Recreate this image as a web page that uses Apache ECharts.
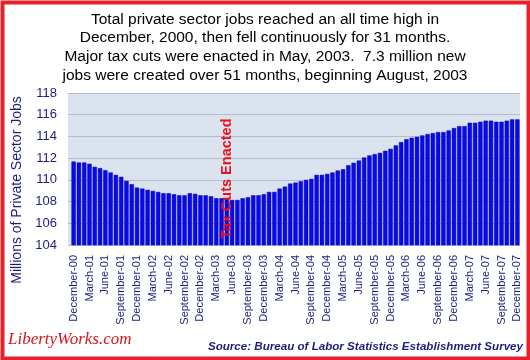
<!DOCTYPE html>
<html><head><meta charset="utf-8">
<script src="https://cdn.jsdelivr.net/npm/echarts@6/dist/echarts.min.js"></script>
<style>html,body{margin:0;padding:0;background:#fff}#c{width:530px;height:360px}</style>
</head><body><div id="c"></div>
<script>
const categories = [
"December-00",
"January-01","February-01","March-01","April-01","May-01","June-01","July-01","August-01","September-01","October-01","November-01","December-01",
"January-02","February-02","March-02","April-02","May-02","June-02","July-02","August-02","September-02","October-02","November-02","December-02",
"January-03","February-03","March-03","April-03","May-03","June-03","July-03","August-03","September-03","October-03","November-03","December-03",
"January-04","February-04","March-04","April-04","May-04","June-04","July-04","August-04","September-04","October-04","November-04","December-04",
"January-05","February-05","March-05","April-05","May-05","June-05","July-05","August-05","September-05","October-05","November-05","December-05",
"January-06","February-06","March-06","April-06","May-06","June-06","July-06","August-06","September-06","October-06","November-06","December-06",
"January-07","February-07","March-07","April-07","May-07","June-07","July-07","August-07","September-07","October-07","November-07","December-07"
];
const jobsMillions = [
111.69,
111.60,111.60,111.48,111.20,111.08,110.89,110.68,110.46,110.28,109.91,109.60,109.29,
109.20,109.08,108.98,108.89,108.77,108.77,108.68,108.58,108.58,108.77,108.71,108.58,
108.58,108.49,108.31,108.31,108.31,108.15,108.15,108.31,108.40,108.58,108.58,108.68,
108.89,108.89,109.20,109.38,109.66,109.75,109.88,110.00,110.09,110.46,110.46,110.55,
110.68,110.86,110.98,111.35,111.57,111.78,112.06,112.25,112.37,112.49,112.68,112.86,
113.17,113.48,113.75,113.88,113.97,114.09,114.22,114.31,114.40,114.40,114.55,114.77,
114.95,114.95,115.26,115.26,115.35,115.45,115.45,115.35,115.35,115.45,115.57,115.57
];
const yTicks = [104,106,108,110,112,114,116,118];
const titleLines = [
"Total private sector jobs reached an all time high in",
"December, 2000, then fell continuously for 31 months.",
"Major tax cuts were enacted in May, 2003.  7.3 million new",
"jobs were created over 51 months, beginning August, 2003"
];
const annotation = {category: "May-03", text: "Tax Cuts Enacted"};
const yAxisName = "Millions of Private Sector Jobs";
const sourceText = "Source: Bureau of Labor Statistics Establishment Survey";
const brandText = "LibertyWorks.com";

const navy = '#1c1c80';
const annIndex = categories.indexOf("May-03");
const chart = echarts.init(document.getElementById('c'), null, {renderer:'canvas'});
chart.setOption({
  animation:false,
  backgroundColor:'#fff',
  title:{
    text: titleLines.join('\n'),
    left:'center', top:5,
    textStyle:{fontFamily:'Liberation Sans, Arial', fontSize:15.5, fontWeight:'normal', color:'#000', lineHeight:18.7}
  },
  grid:[
    {left:68, top:93, width:452, height:152, show:true, backgroundColor:'#dbe3ef', borderWidth:0},
    {left:71, top:93, width:449, height:152}
  ],
  xAxis:[
    {gridIndex:0, type:'value', show:false, min:0, max:1},
    {gridIndex:1, type:'category', data:categories, boundaryGap:true,
     axisLine:{show:false}, axisTick:{show:false},
     axisLabel:{interval:2, rotate:90, margin:10, fontFamily:'Liberation Sans, Arial', fontSize:11, color:navy}}
  ],
  yAxis:[
    {gridIndex:0, type:'value', min:104, max:118, interval:2,
     axisLine:{show:false}, axisTick:{show:false},
     axisLabel:{margin:11, fontFamily:'Liberation Sans, Arial', fontSize:13, color:navy,
       formatter:v=>yTicks.includes(v)?String(v):''},
     splitLine:{lineStyle:{color:'#b4bccb', width:1}}},
    {gridIndex:1, type:'value', min:104, max:118, show:false, splitLine:{show:false}}
  ],
  series:[{
    type:'bar', xAxisIndex:1, yAxisIndex:1,
    data: jobsMillions,
    barCategoryGap:'18%',
    itemStyle:{color:'#0a0ae8', borderColor:'#0000b0', borderWidth:0.5},
    markPoint:{
      symbol:'circle', symbolSize:0,
      data:[{coord:[annIndex, 110.1], value:annotation.text}],
      label:{show:true, position:'inside', rotate:90, formatter:annotation.text,
        fontFamily:'Liberation Sans, Arial', fontWeight:'bold', fontSize:14.5, color:'#e8101c'}
    }
  }],
  graphic:[
    {type:'rect', left:0, top:0, shape:{x:2, y:2, width:526, height:356},
     style:{fill:'none', stroke:'#e8202a', lineWidth:4}},
    {type:'text', x:17, y:190, rotation:Math.PI/2,
     style:{text:yAxisName, fontFamily:'Liberation Sans, Arial', fontSize:14, fill:navy, align:'center', verticalAlign:'middle'}},
    {type:'text', x:8, y:340,
     style:{text:brandText, fontFamily:'Liberation Serif, serif', fontStyle:'italic', fontSize:17, fill:'#d8141c', align:'left', verticalAlign:'middle'}},
    {type:'text', x:523, y:347,
     style:{text:sourceText, fontFamily:'Liberation Sans, Arial', fontStyle:'italic', fontWeight:'bold', fontSize:11.6, fill:navy, align:'right', verticalAlign:'middle'}}
  ]
});
</script></body></html>
